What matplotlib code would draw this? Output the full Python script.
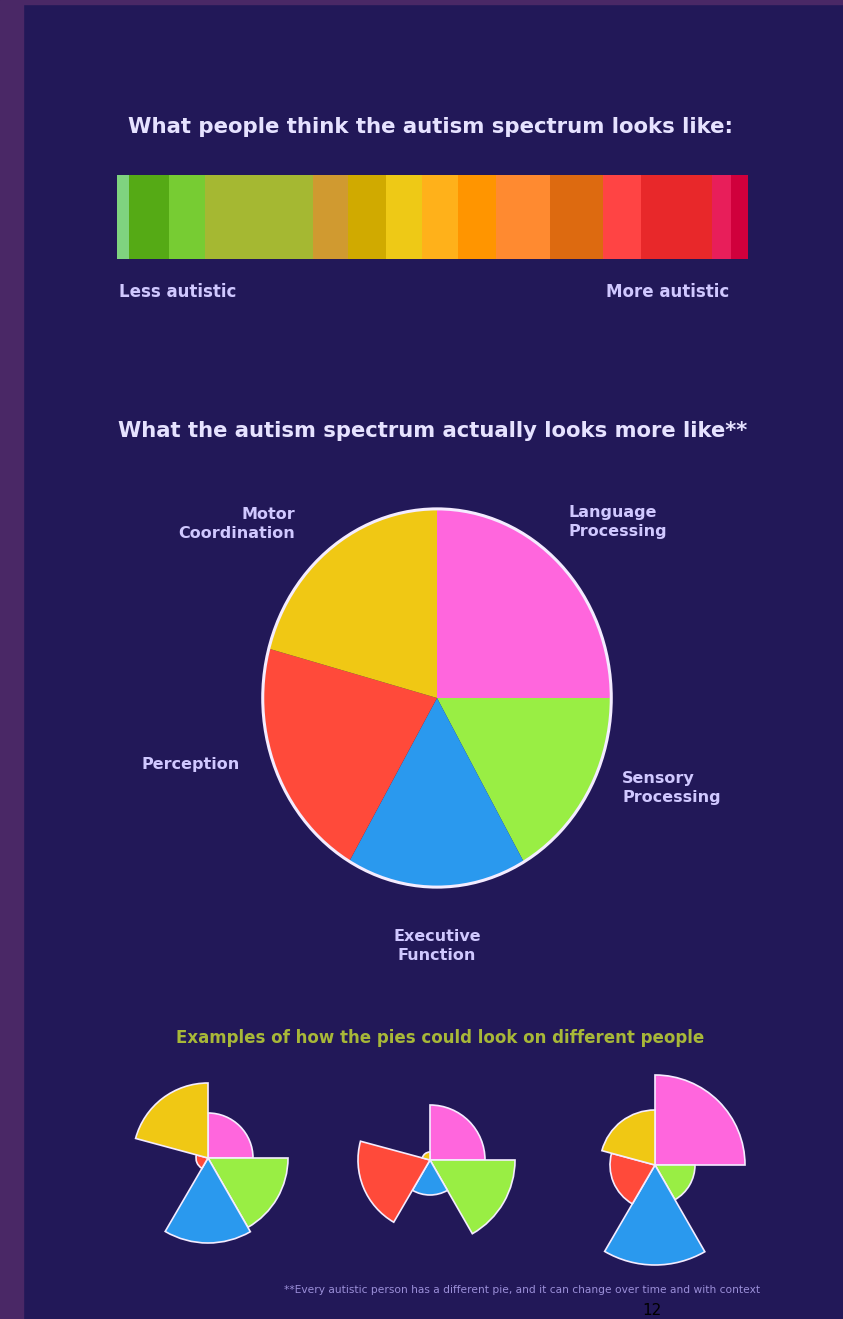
import matplotlib.pyplot as plt
from matplotlib.patches import Rectangle, Ellipse
import numpy as np

# spectrum bar (first panel)
spectrum_stops = [0, .019, .082, .139, .311, .366, .426, .483, .540, .600,
                  .686, .770, .830, .943, .973, 1.0]
spectrum_colors = ['#7fd37f', '#55aa15', '#77cc33', '#a5b832', '#d09a30',
                   '#d0aa00', '#eec916', '#ffb11a', '#ff9500', '#ff8a30',
                   '#dd6a10', '#ff4444', '#e8282a', '#e81e5a', '#d0003c']

# main pie, clockwise from the top
traits = ['Language\nProcessing', 'Sensory\nProcessing', 'Executive\nFunction',
          'Perception', 'Motor\nCoordination']
trait_share = [25, 16.7, 16.7, 20.8, 20.8]
trait_colors = ['#ff66dd', '#99ee44', '#2a99ee', '#ff4a3a', '#f0c814']

# three example people (radius of each slice)
person_a = [45, 80, 85, 12, 75]
person_b = [55, 85, 35, 72, 8]
person_c = [90, 40, 100, 45, 55]

BG = '#221858'
TXT = '#e6e2ff'
LBL = '#d0c8ff'

W, H = 843, 1319
fig = plt.figure(figsize=(W / 100, H / 100), dpi=100, facecolor=BG)

bg = fig.add_axes([0, 0, 1, 1])
bg.set_xlim(0, W)
bg.set_ylim(H, 0)
bg.axis('off')
bg.add_patch(Rectangle((0, 0), 23, H, color='#4a2866', zorder=0))
bg.add_patch(Rectangle((0, 0), W, 4, color='#4a2866', zorder=0))


def px_axes(cx, cy, w, h, **kw):
    return fig.add_axes([(cx - w / 2) / W, 1 - (cy + h / 2) / H, w / W, h / H], **kw)


# --- panel 1: the linear spectrum
bg.text(431, 127, 'What people think the autism spectrum looks like:',
        color=TXT, fontsize=15.3, fontweight='bold', ha='center', va='center')
x0, x1 = 117, 748
stops = np.array(spectrum_stops) * (x1 - x0) + x0
bg.barh(217, np.diff(stops), left=stops[:-1], height=84,
        color=spectrum_colors, linewidth=0)
bg.text(119, 292, 'Less autistic', color=LBL, fontsize=12, fontweight='bold',
        ha='left', va='center')
bg.text(729, 292, 'More autistic', color=LBL, fontsize=12, fontweight='bold',
        ha='right', va='center')

# --- panel 2: the pie
bg.text(433, 431, 'What the autism spectrum actually looks more like**',
        color=TXT, fontsize=15.2, fontweight='bold', ha='center', va='center')

pie_ax = px_axes(437, 698, 352, 382)
pie_ax.pie(trait_share, colors=trait_colors, startangle=90, counterclock=False,
           wedgeprops=dict(linewidth=0))
pie_ax.set_aspect('auto')
pie_ax.set_xlim(-1.01, 1.01)
pie_ax.set_ylim(-1.01, 1.01)
pie_ax.add_patch(Ellipse((0, 0), 2, 2, fill=False, ec='#f4ecff', lw=2.2))

lab_pos = [(568, 522, 'left'), (622, 788, 'left'), (437, 946, 'center'),
           (240, 765, 'right'), (295, 524, 'right')]
for name, (lx, ly, ha) in zip(traits, lab_pos):
    bg.text(lx, ly, name, color=LBL, fontsize=11.5, fontweight='bold',
            ha=ha, va='center', linespacing=1.35)

# --- panel 3: examples
bg.text(440, 1038, 'Examples of how the pies could look on different people',
        color='#a8b838', fontsize=12, fontweight='bold', ha='center', va='center')

theta_w = np.radians(np.array(trait_share) * 3.6)
theta_c = np.cumsum(theta_w) - theta_w / 2
for person, (cx, cy) in zip([person_a, person_b, person_c],
                            [(208, 1158), (430, 1160), (655, 1165)]):
    pax = px_axes(cx, cy, 220, 220, projection='polar')
    pax.set_theta_direction(-1)
    pax.set_theta_offset(np.pi / 2)
    pax.bar(theta_c, person, width=theta_w, color=trait_colors,
            edgecolor='#f4ecff', linewidth=1.2)
    pax.set_ylim(0, 110)
    pax.axis('off')
    pax.patch.set_alpha(0)

bg.text(522, 1290,
        '**Every autistic person has a different pie, and it can change over time and with context',
        color='#9b8fd8', fontsize=7.7, ha='center', va='center')
bg.text(652, 1318, '12', color='black', fontsize=11, ha='center', va='bottom')

fig.savefig('out.png', dpi=100, facecolor=BG)
